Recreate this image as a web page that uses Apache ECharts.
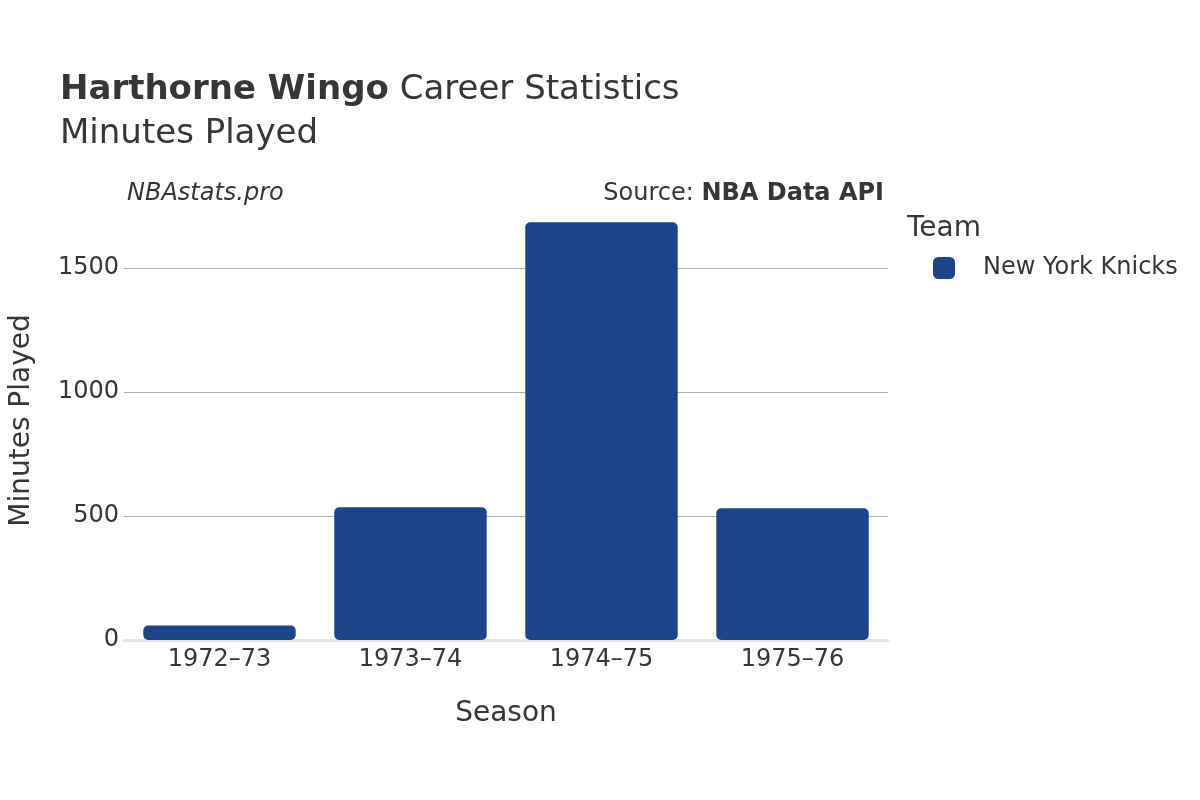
<!DOCTYPE html>
<html><head><meta charset="utf-8">
<script src="https://cdn.jsdelivr.net/npm/echarts@6/dist/echarts.min.js"></script>
<style>html,body{margin:0;padding:0;background:#fff}#c{width:1200px;height:800px}</style>
</head><body><div id="c"></div>
<script>
const seasons = ['1972–73', '1973–74', '1974–75', '1975–76'];
const minutes = [58, 535, 1684, 531];
const teamName = 'New York Knicks';
const yTicks = [0, 500, 1000, 1500];

const F = 'DejaVu Sans, sans-serif';
const C = '#363636';
const chart = echarts.init(document.getElementById('c'));
chart.setOption({
  backgroundColor: '#fff',
  animation: false,
  title: [
    { text: '{b|Harthorne Wingo} {n|Career Statistics}', left: 60, top: 73, padding: 0,
      textStyle: { fontWeight: 'normal', fontFamily: F, fontSize: 34,
        rich: { b: { fontFamily: F, fontSize: 34, fontWeight: 'bold', color: C },
                n: { fontFamily: F, fontSize: 34, fontWeight: 'normal', color: C } } } },
    { text: 'Minutes Played', left: 60, top: 117, padding: 0, textStyle: { fontFamily: F, fontSize: 34, fontWeight: 'normal', color: C } },
    { text: 'NBAstats.pro', left: 127, top: 182, padding: 0, textStyle: { fontFamily: F, fontSize: 24, fontStyle: 'italic', fontWeight: 'normal', color: C } },
    { text: '{n|Source: }{b|NBA Data API}', right: 316, top: 182, padding: 0,
      textStyle: { fontWeight: 'normal', fontFamily: F, fontSize: 24,
        rich: { n: { fontFamily: F, fontSize: 24, fontWeight: 'normal', color: C }, b: { fontFamily: F, fontSize: 24, fontWeight: 'bold', color: C } } } },
    { text: 'Team', left: 907, top: 215, padding: 0, textStyle: { fontFamily: F, fontSize: 28, fontWeight: 'normal', color: C } }
  ],
  legend: {
    left: 933, top: 256, orient: 'vertical', padding: 0,
    icon: 'roundRect', itemWidth: 22, itemHeight: 22, itemGap: 20,
    textStyle: { fontFamily: F, fontSize: 24, color: C, padding: [0, 0, 0, 23] },
    data: [teamName]
  },
  grid: { left: 122, right: 312, top: 201, bottom: 160, containLabel: false },
  xAxis: {
    type: 'category', data: seasons,
    name: 'Season', nameLocation: 'middle', nameGap: 60,
    nameTextStyle: { fontFamily: F, fontSize: 28, color: C },
    axisLine: { show: true, lineStyle: { color: '#e6e6e6', width: 3 } },
    axisTick: { show: false },
    axisLabel: { fontFamily: F, fontSize: 24, color: C, margin: 8 }
  },
  yAxis: {
    type: 'value', min: 0, max: 1770, interval: 500,
    name: 'Minutes Played', nameLocation: 'middle', nameGap: 88,
    nameTextStyle: { fontFamily: F, fontSize: 28, color: C },
    axisLine: { show: false }, axisTick: { show: false },
    splitLine: { showMaxLine: false, lineStyle: { color: '#b0b0b0', width: 1 } },
    axisLabel: { fontFamily: F, fontSize: 24, color: C, margin: 5, showMaxLabel: false,
      formatter: v => yTicks.includes(v) ? String(v) : '' }
  },
  series: [{
    name: teamName, type: 'bar', data: minutes, barCategoryGap: '20.2%',
    itemStyle: { color: '#1c4488', borderRadius: 5 }
  }]
});
</script></body></html>
